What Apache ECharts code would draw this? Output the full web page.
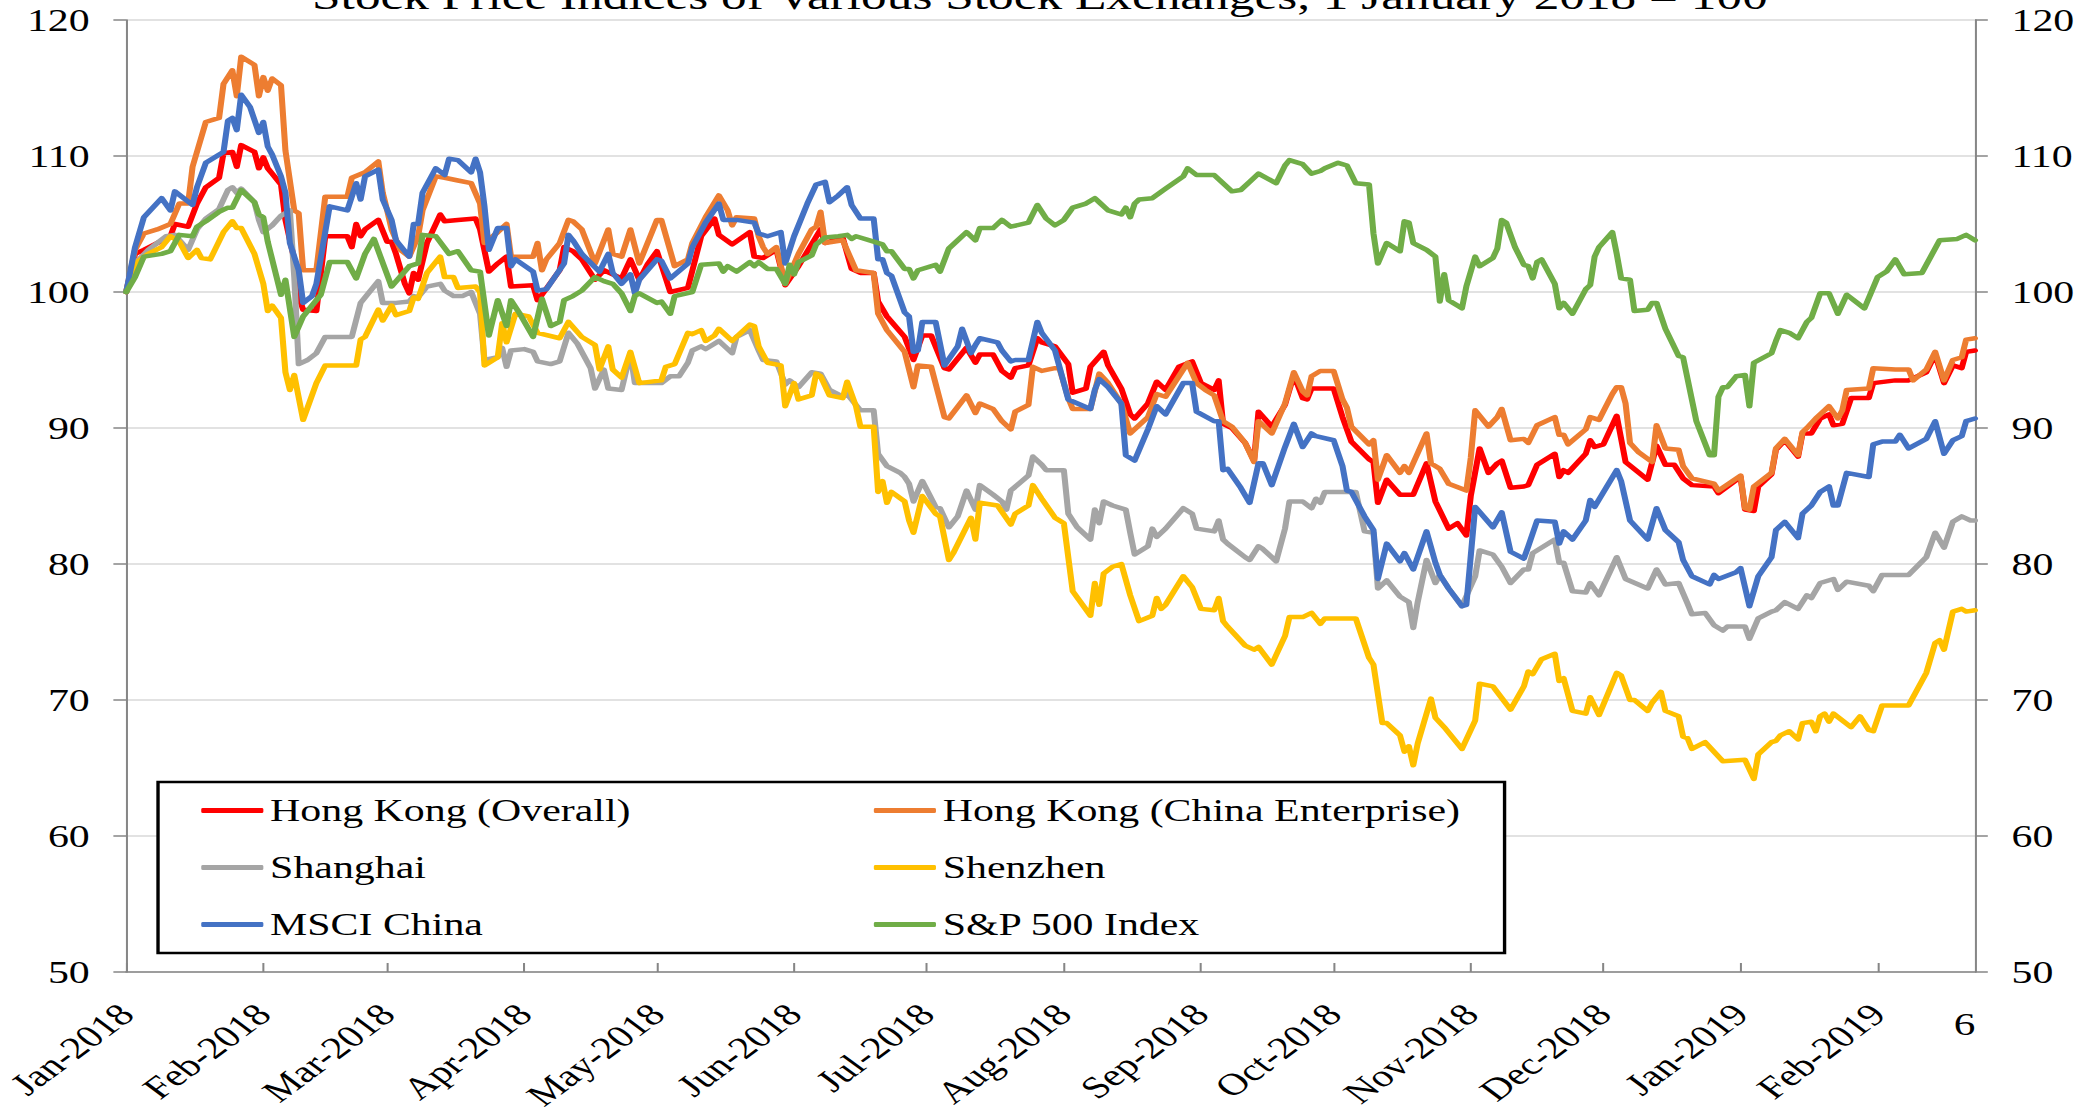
<!DOCTYPE html>
<html>
<head>
<meta charset="utf-8">
<title>Stock Price Indices</title>
<script src="https://cdn.jsdelivr.net/npm/echarts/dist/echarts.min.js"></script>
<style>
  html, body { margin: 0; padding: 0; background: #fff; overflow: hidden; }
  /* the source picture is stretched sideways, so draw narrower and stretch */
  #chart { width: 1540px; height: 1117px; transform: scaleX(1.3506); transform-origin: 0 0; }
</style>
</head>
<body>
<div id="chart"></div>
<script>
// days counted from 1 Jan 2018
const BASE = Date.UTC(2018, 0, 1);
const DAY = 86400000;
const END_DAY = 418;
const MONTHS = ["Jan", "Feb", "Mar", "Apr", "May", "Jun", "Jul", "Aug", "Sep", "Oct", "Nov", "Dec"];
const TITLE = "Stock Price Indices of Various Stock Exchanges, 1 January 2018 = 100";

const names = ["Hong Kong (Overall)", "Hong Kong (China Enterprise)", "Shanghai", "Shenzhen", "MSCI China", "S&P 500 Index"];
const colors = ["#FF0000", "#ED7D31", "#A5A5A5", "#FFC000", "#4472C4", "#70AD47"];

const hkOverall = [[0,100],[2,102.8],[4,103.1],[7,103.6],[10,104.1],[11,105.0],[14,104.8],[16,106.5],[18,107.7],[21,108.4],[22,110.2],[24,110.3],[25,109.2],[26,110.8],[29,110.3],[30,109.1],[31,109.9],[32,109.1],[33,108.7],[35,107.9],[36,105.3],[38,102.4],[39,99.7],[40,98.7],[43,98.6],[45,104.1],[50,104.1],[51,103.3],[52,105.0],[53,104.1],[54,104.6],[57,105.3],[59,103.7],[60,103.7],[61,102.8],[63,100.6],[64,99.9],[65,101.4],[66,100.9],[68,103.6],[71,105.7],[72,105.2],[75,105.3],[79,105.4],[80,104.6],[82,101.5],[84,102.1],[86,102.6],[87,100.4],[92,100.5],[93,99.4],[94,99.8],[98,101.6],[99,103.3],[101,103.0],[103,102.4],[106,100.9],[108,101.6],[110,101.3],[112,101.0],[114,102.4],[116,100.9],[118,102.1],[120,103.0],[123,100.0],[127,100.3],[130,104.1],[133,105.4],[134,104.2],[137,103.5],[141,104.4],[142,102.6],[144,102.5],[147,103.1],[149,100.5],[152,101.9],[157,104.6],[158,103.6],[162,104.0],[164,101.7],[166,101.4],[169,101.4],[170,99.3],[172,98.2],[176,96.7],[178,95.0],[180,96.8],[182,96.8],[185,94.4],[186,94.3],[190,95.9],[192,94.8],[193,95.4],[196,95.4],[198,94.2],[200,93.7],[201,94.4],[204,94.6],[206,96.6],[207,96.3],[210,96.0],[213,94.7],[214,92.6],[217,92.9],[218,94.5],[221,95.6],[222,94.6],[225,92.9],[227,91.0],[228,90.7],[231,91.8],[233,93.4],[235,92.8],[238,94.5],[241,94.9],[243,93.3],[246,92.8],[247,93.5],[248,90.3],[250,90.0],[253,88.9],[255,87.6],[256,91.2],[259,90.1],[262,91.7],[264,93.9],[266,92.2],[267,92.1],[268,92.9],[273,92.9],[275,90.8],[277,89.0],[281,87.7],[282,87.5],[283,84.5],[285,86.2],[288,85.1],[291,85.1],[294,87.4],[296,84.6],[299,82.6],[301,83.0],[303,82.1],[304,85.0],[306,88.5],[308,86.7],[310,87.4],[311,87.6],[313,85.6],[316,85.7],[317,85.8],[319,87.3],[323,88.1],[324,86.4],[325,86.9],[326,86.7],[330,88.1],[331,89.1],[332,88.6],[334,88.8],[337,90.9],[339,87.5],[344,86.2],[346,88.7],[348,87.3],[350,87.3],[352,86.3],[354,85.8],[359,85.7],[360,85.2],[365,86.4],[366,84.0],[368,83.9],[369,85.7],[372,86.6],[373,88.4],[375,89.1],[378,87.9],[379,89.6],[381,89.6],[383,90.7],[385,91.0],[386,90.2],[388,90.3],[390,92.2],[394,92.2],[395,93.3],[400,93.5],[403,93.5],[407,94.1],[409,95.4],[411,93.3],[413,94.6],[415,94.4],[416,95.6],[418,95.7]];

const hkChinaEnt = [[0,100],[2,103.1],[4,104.3],[7,104.6],[10,105.0],[12,106.5],[14,106.5],[15,109.2],[18,112.5],[21,112.8],[22,115.3],[24,116.3],[25,114.4],[26,117.3],[29,116.7],[30,114.4],[31,115.8],[32,114.8],[33,115.7],[35,115.2],[36,110.4],[38,106.0],[39,105.8],[40,101.6],[43,101.6],[45,107.0],[50,107.0],[51,108.4],[54,108.8],[57,109.6],[58,107.3],[59,106.0],[60,104.6],[62,103.1],[64,102.6],[66,104.1],[67,106.0],[70,108.5],[72,108.4],[75,108.2],[78,108.0],[80,106.5],[81,103.6],[84,104.4],[86,105.0],[87,102.6],[92,102.6],[93,103.6],[94,101.6],[95,102.4],[98,103.6],[100,105.3],[101,105.2],[103,104.6],[106,102.1],[109,104.6],[110,102.8],[112,102.6],[114,104.6],[116,102.1],[120,105.3],[121,105.3],[124,101.9],[127,102.4],[128,103.6],[131,105.5],[134,107.1],[136,106.0],[137,104.9],[138,105.5],[142,105.4],[143,104.1],[144,103.3],[145,102.8],[147,103.3],[149,100.6],[152,102.8],[155,104.6],[156,104.8],[157,105.9],[158,103.6],[162,103.8],[165,101.6],[169,101.4],[170,98.4],[172,97.2],[176,95.6],[178,93.0],[179,94.6],[182,94.5],[185,90.8],[186,90.7],[190,92.4],[192,91.1],[193,91.8],[196,91.4],[198,90.5],[200,89.9],[201,91.2],[204,91.7],[205,94.5],[207,94.2],[210,94.4],[211,94.4],[213,92.2],[214,91.4],[218,91.4],[220,94.0],[222,93.3],[225,91.8],[227,89.6],[231,90.8],[233,92.5],[235,92.3],[240,94.8],[242,93.3],[244,92.8],[246,92.4],[248,90.5],[250,90.1],[253,88.9],[255,87.5],[256,90.5],[259,89.6],[262,91.8],[264,94.1],[266,92.7],[267,92.4],[268,93.8],[270,94.2],[273,94.2],[275,92.1],[276,91.5],[277,90.1],[281,88.8],[282,89.1],[283,86.2],[285,88.0],[288,86.7],[289,87.2],[290,86.7],[294,89.6],[295,87.4],[297,87.0],[299,85.9],[303,85.4],[304,87.8],[305,91.3],[308,90.1],[310,90.8],[311,91.4],[313,89.1],[316,89.2],[317,88.9],[319,90.2],[323,90.8],[324,89.5],[325,89.5],[326,88.8],[330,89.9],[331,90.8],[333,90.6],[336,92.5],[337,93.0],[338,93.0],[339,91.8],[340,88.9],[342,88.2],[345,87.5],[346,90.2],[348,88.5],[351,88.4],[352,87.2],[354,86.3],[359,85.9],[360,85.4],[365,86.5],[366,84.1],[367,84.0],[368,85.7],[372,86.7],[373,88.5],[375,89.2],[378,88.0],[379,89.7],[380,90.0],[382,90.7],[383,91.0],[385,91.6],[387,90.7],[388,91.3],[389,92.8],[394,92.9],[395,94.4],[400,94.3],[403,94.3],[404,93.5],[407,94.3],[409,95.6],[411,93.5],[413,95.0],[415,95.2],[416,96.5],[418,96.6]];

const shanghai = [[0,100],[2,102.1],[5,103.1],[9,104.1],[11,104.2],[14,103.1],[16,104.6],[18,105.4],[21,106.1],[23,107.5],[24,107.7],[25,107.3],[26,107.6],[29,106.6],[30,105.3],[31,104.4],[33,104.9],[35,105.6],[37,106.0],[38,101.1],[39,94.7],[41,95.0],[43,95.5],[45,96.7],[51,96.7],[53,99.2],[57,100.8],[58,99.2],[61,99.2],[64,99.3],[65,99.7],[66,99.6],[68,100.4],[71,100.6],[72,100.1],[74,99.7],[76,99.7],[78,100.0],[80,98.4],[81,95.0],[84,95.2],[85,95.9],[86,94.5],[87,95.7],[90,95.8],[92,95.6],[93,94.9],[96,94.7],[98,94.9],[100,97.0],[102,96.2],[105,94.4],[106,92.9],[108,94.3],[109,92.9],[112,92.8],[114,95.5],[115,93.3],[121,93.3],[123,93.8],[125,93.8],[127,94.8],[128,95.7],[130,96.0],[131,95.8],[134,96.4],[137,95.5],[138,96.7],[141,97.2],[143,95.7],[144,95.0],[147,94.9],[149,93.2],[150,93.5],[152,93.0],[155,94.1],[157,94.0],[159,92.8],[162,92.3],[163,92.5],[166,91.3],[169,91.3],[170,88.1],[172,87.2],[175,86.7],[176,86.4],[177,85.9],[178,84.6],[180,86.1],[183,84.2],[184,84.1],[186,82.7],[188,83.5],[190,85.4],[192,84.0],[193,85.8],[196,85.1],[198,84.6],[199,84.0],[200,85.4],[204,86.5],[205,87.9],[207,87.3],[208,86.9],[212,86.9],[213,83.7],[215,82.7],[218,81.8],[219,84.0],[220,83.0],[221,84.6],[223,84.3],[226,84.0],[227,82.3],[228,80.7],[231,81.3],[232,82.6],[233,82.0],[235,82.6],[239,84.1],[241,83.7],[242,82.6],[246,82.4],[247,83.2],[248,81.8],[249,81.5],[253,80.5],[254,80.3],[256,81.3],[257,81.1],[260,80.2],[262,82.6],[263,84.6],[266,84.6],[268,84.1],[269,84.8],[270,84.5],[271,85.3],[278,85.3],[280,82.4],[282,82.3],[283,78.2],[285,78.8],[288,77.6],[290,77.2],[291,75.3],[292,77.2],[294,80.3],[296,78.6],[297,79.2],[299,78.2],[302,76.9],[305,79.1],[306,81.0],[309,80.7],[311,79.8],[313,78.6],[316,79.6],[317,79.6],[318,80.8],[323,81.8],[324,80.1],[325,80.1],[327,78.0],[330,77.9],[331,78.6],[333,77.7],[337,80.5],[339,78.9],[344,78.2],[346,79.6],[348,78.5],[351,78.6],[353,77.1],[354,76.3],[357,76.4],[359,75.5],[361,75.1],[362,75.4],[366,75.4],[367,74.5],[369,76.0],[372,76.5],[373,76.6],[375,77.2],[378,76.7],[380,77.7],[381,77.5],[383,78.6],[386,78.9],[387,78.1],[389,78.7],[394,78.4],[395,78.0],[397,79.2],[403,79.2],[407,80.5],[409,82.3],[411,81.2],[413,83.1],[415,83.5],[417,83.2],[418,83.2]];

const shenzhen = [[0,100],[2,102.1],[5,102.8],[8,103.3],[10,104.1],[12,103.7],[14,102.5],[16,103.1],[17,102.5],[19,102.4],[22,104.4],[24,105.2],[25,104.7],[26,104.7],[29,102.8],[30,101.7],[31,100.6],[32,98.6],[33,99.0],[35,98.1],[36,94.1],[37,92.8],[38,93.9],[40,90.6],[43,93.3],[45,94.6],[52,94.6],[53,96.5],[54,96.7],[57,98.7],[58,97.9],[60,99.0],[61,98.3],[64,98.6],[65,99.6],[66,99.5],[68,101.4],[71,102.6],[72,101.1],[74,101.1],[75,100.3],[79,100.4],[80,100.0],[81,94.6],[84,95.2],[85,97.7],[86,96.3],[88,98.4],[91,98.2],[93,97.0],[98,96.6],[100,97.8],[103,96.7],[106,96.1],[107,94.3],[109,96.0],[110,94.3],[112,93.7],[114,95.6],[116,93.3],[121,93.5],[122,94.5],[124,94.7],[127,97.0],[128,96.9],[130,97.2],[131,96.4],[133,96.8],[134,97.3],[137,96.4],[141,97.6],[142,97.5],[143,96.0],[145,94.8],[148,94.6],[149,91.6],[151,93.3],[152,92.1],[155,92.4],[156,94.0],[157,93.8],[159,92.4],[162,92.2],[163,93.4],[165,91.6],[166,90.1],[169,90.1],[170,85.3],[171,86.1],[172,84.5],[173,85.3],[176,84.6],[177,83.2],[178,82.3],[180,85.0],[183,83.7],[184,83.5],[186,80.3],[187,80.8],[191,83.4],[192,81.8],[193,84.5],[197,84.3],[200,82.9],[201,83.7],[204,84.3],[205,85.8],[207,84.8],[210,83.4],[212,83.0],[214,78.0],[218,76.2],[219,78.6],[220,77.0],[221,79.3],[223,79.8],[225,80.0],[227,77.7],[229,75.8],[232,76.2],[233,77.5],[234,76.7],[235,77.0],[239,79.1],[241,78.3],[243,76.7],[246,76.6],[247,77.5],[248,75.8],[249,75.4],[253,74.0],[255,73.7],[256,73.9],[259,72.6],[262,74.7],[263,76.1],[266,76.1],[268,76.4],[270,75.6],[271,76.0],[278,76.0],[281,73.1],[282,72.6],[284,68.3],[285,68.3],[288,67.4],[289,66.2],[290,66.6],[291,65.2],[292,66.8],[295,70.1],[296,68.7],[298,68.0],[302,66.4],[305,68.5],[306,71.2],[309,71.0],[313,69.3],[316,71.0],[317,72.1],[318,71.9],[320,73.0],[323,73.4],[324,71.4],[325,71.6],[327,69.2],[330,69.0],[331,70.2],[333,68.9],[337,72.0],[338,71.8],[340,70.0],[341,70.0],[344,69.2],[345,69.8],[347,70.6],[348,69.2],[351,68.8],[352,67.3],[353,67.2],[354,66.4],[357,66.9],[361,65.5],[366,65.6],[368,64.2],[369,66.0],[372,66.9],[373,67.0],[374,67.4],[376,67.7],[378,67.1],[379,68.3],[381,68.4],[382,67.7],[383,68.8],[384,69.0],[385,68.4],[386,69.0],[390,68.0],[392,68.8],[394,67.8],[395,67.7],[397,69.6],[403,69.6],[407,72.0],[409,74.2],[410,74.4],[411,73.7],[413,76.5],[415,76.7],[416,76.5],[418,76.6]];

const msciChina = [[0,100],[2,103.3],[4,105.5],[8,106.9],[10,106.0],[11,107.4],[15,106.4],[16,107.7],[18,109.5],[22,110.3],[23,112.6],[24,112.8],[25,111.9],[26,114.5],[28,113.6],[30,111.7],[31,112.5],[32,110.7],[33,110.1],[35,108.5],[36,107.3],[37,103.6],[39,101.6],[40,99.2],[42,99.7],[43,100.6],[46,106.3],[50,106.0],[52,108.0],[53,106.8],[54,108.5],[57,109.0],[58,106.8],[60,105.3],[61,103.8],[64,102.6],[65,105.0],[66,105.0],[67,107.3],[70,109.1],[72,108.6],[73,109.8],[75,109.7],[78,108.8],[79,109.8],[80,108.8],[81,106.3],[82,103.1],[84,104.7],[86,104.7],[87,101.9],[88,102.4],[92,101.5],[93,100.1],[95,100.2],[99,102.1],[100,104.2],[101,103.8],[103,102.8],[107,101.5],[109,102.8],[110,101.4],[112,100.6],[114,101.3],[115,99.9],[116,100.9],[120,102.4],[121,102.3],[123,101.0],[127,102.1],[128,103.3],[131,105.1],[134,106.5],[135,105.3],[138,105.3],[142,105.1],[143,104.3],[145,104.1],[148,104.4],[149,102.1],[151,104.1],[154,106.5],[156,107.9],[158,108.1],[159,106.6],[161,107.1],[163,107.7],[164,106.4],[166,105.4],[169,105.4],[170,102.4],[171,102.4],[172,101.4],[173,101.2],[176,98.5],[177,98.2],[178,95.6],[179,95.7],[180,97.8],[183,97.8],[185,94.6],[188,96.0],[189,97.3],[191,95.5],[192,96.1],[193,96.6],[197,96.3],[198,95.7],[200,94.9],[201,95.0],[204,95.0],[206,97.8],[207,97.0],[210,95.7],[213,92.1],[218,91.4],[219,92.8],[220,93.6],[222,93.0],[225,91.8],[226,88.0],[228,87.6],[231,89.9],[233,91.6],[235,91.0],[239,93.3],[241,93.3],[242,91.2],[246,90.5],[247,90.5],[248,86.9],[249,87.0],[252,85.6],[254,84.5],[256,87.4],[257,87.4],[259,85.8],[262,88.6],[264,90.3],[266,88.6],[268,89.6],[269,89.4],[273,89.1],[275,87.2],[276,85.4],[277,85.3],[280,83.5],[282,82.5],[283,78.9],[285,81.5],[288,80.2],[289,80.8],[291,79.6],[294,82.4],[296,80.1],[297,79.2],[299,78.2],[302,76.9],[303,77.0],[305,84.2],[309,82.7],[311,83.8],[313,80.9],[316,80.4],[317,81.3],[319,83.2],[323,83.1],[324,81.5],[325,82.4],[327,81.8],[330,83.2],[331,84.7],[332,84.2],[337,86.9],[338,86.1],[340,83.2],[344,81.8],[346,84.1],[348,82.5],[351,81.6],[352,80.3],[354,79.1],[358,78.5],[359,79.2],[360,78.9],[364,79.4],[365,79.7],[367,76.9],[369,79.1],[372,80.5],[373,82.5],[375,83.1],[378,81.9],[379,83.7],[381,84.3],[383,85.3],[385,85.7],[386,84.3],[387,84.3],[389,86.7],[394,86.4],[395,88.8],[397,89.0],[400,89.0],[401,89.5],[403,88.5],[407,89.2],[409,90.5],[411,88.1],[413,89.1],[415,89.4],[416,90.5],[418,90.7]];

const sp500 = [[0,100],[2,101.1],[4,102.6],[8,102.8],[10,103.0],[12,104.2],[15,104.1],[16,104.8],[18,105.2],[21,105.9],[23,106.2],[24,106.2],[26,107.5],[29,106.6],[30,105.7],[31,105.5],[32,103.7],[35,99.8],[36,100.9],[38,96.7],[40,98.2],[44,99.8],[46,102.2],[50,102.2],[52,101.0],[54,102.8],[56,103.9],[60,100.4],[64,101.9],[66,102.1],[67,104.2],[70,104.1],[73,102.8],[75,103.0],[78,101.6],[80,101.5],[82,96.8],[84,99.4],[86,97.5],[87,99.4],[89,98.4],[92,96.7],[94,99.5],[96,97.5],[98,97.8],[99,99.4],[101,99.7],[103,100.1],[106,101.1],[108,100.8],[110,100.6],[112,99.9],[114,98.6],[115,99.7],[116,99.9],[120,99.2],[121,99.3],[123,98.4],[124,99.7],[128,100.0],[130,102.0],[134,102.1],[135,101.5],[136,101.9],[138,101.5],[141,102.2],[142,101.9],[143,102.2],[145,101.7],[147,101.7],[149,100.6],[150,102.0],[151,101.3],[152,102.2],[155,102.7],[156,103.5],[158,104.0],[161,104.1],[163,104.2],[164,103.9],[165,104.1],[169,103.7],[171,103.5],[172,103.0],[173,103.0],[176,101.7],[177,101.7],[178,101.0],[179,101.6],[183,102.0],[184,101.5],[186,103.2],[190,104.4],[192,103.8],[193,104.7],[196,104.7],[198,105.3],[200,104.8],[204,105.1],[206,106.4],[208,105.4],[210,104.9],[212,105.3],[214,106.2],[217,106.5],[219,106.9],[220,106.6],[222,106.0],[225,105.7],[226,106.2],[227,105.5],[228,106.5],[229,106.8],[232,106.9],[235,107.6],[239,108.5],[240,109.1],[242,108.6],[246,108.6],[250,107.4],[252,107.5],[254,108.1],[256,108.7],[260,108.0],[262,109.3],[263,109.7],[266,109.4],[268,108.7],[270,108.9],[271,109.1],[274,109.5],[276,109.3],[278,108.0],[281,107.9],[282,104.3],[283,102.1],[285,103.6],[288,103.0],[289,105.2],[290,105.1],[291,103.6],[294,103.1],[296,102.6],[297,99.3],[298,101.3],[299,99.4],[302,98.8],[303,100.4],[305,102.6],[306,101.9],[309,102.5],[310,103.2],[311,105.3],[312,105.1],[314,103.3],[316,102.0],[317,101.9],[318,101.0],[319,102.2],[320,102.4],[323,100.6],[324,98.8],[325,99.2],[327,98.4],[330,100.2],[331,100.5],[332,102.6],[333,103.3],[336,104.4],[337,102.8],[338,101.0],[340,100.9],[341,98.6],[344,98.7],[345,99.2],[346,99.2],[348,97.3],[351,95.3],[352,95.2],[355,90.5],[358,88.0],[359,88.0],[360,92.3],[361,93.0],[362,93.0],[364,93.8],[366,93.9],[367,91.6],[368,94.8],[372,95.5],[373,96.4],[374,97.2],[376,97.0],[378,96.6],[380,97.8],[381,98.1],[383,99.9],[385,99.9],[387,98.4],[389,99.8],[393,98.8],[396,101.1],[398,101.5],[400,102.4],[402,101.3],[406,101.4],[408,102.6],[410,103.8],[414,103.9],[416,104.2],[418,103.8]];

const allSeries = [hkOverall, hkChinaEnt, shanghai, shenzhen, msciChina, sp500];

const FONT = "Liberation Serif";
const AXIS_GREY = "#868686";

let myChart = echarts.init(document.getElementById("chart"), null, { renderer: "svg" });

function monthLabel(value) {
  const d = new Date(value);
  if (d.getUTCDate() !== 1 || d.getUTCHours() !== 0) return "";
  return MONTHS[d.getUTCMonth()] + "-" + d.getUTCFullYear();
}

function yAxisOf(position) {
  return {
    type: "value",
    position: position,
    min: 50,
    max: 120,
    interval: 10,
    axisLine: { show: true, lineStyle: { color: AXIS_GREY, width: 1.5 } },
    axisTick: { show: true, length: 9.5, lineStyle: { color: AXIS_GREY, width: 1.5 } },
    axisLabel: { margin: 27, fontSize: 31, color: "#000", fontFamily: FONT },
    splitLine: { show: position === "left", lineStyle: { color: "#d9d9d9", width: 1.5 } },
  };
}

function legendOf(left, list) {
  return {
    orient: "vertical",
    left: left,
    top: 790,
    itemWidth: 46,
    itemHeight: 5,
    itemGap: 26,
    icon: "roundRect",
    data: list,
    textStyle: { fontSize: 31, lineHeight: 31, color: "#000", fontFamily: FONT },
  };
}

var options = {
  animation: false,
  useUTC: true,
  backgroundColor: "#fff",
  textStyle: { fontFamily: FONT },
  title: {
    text: TITLE,
    left: "center",
    top: -28,
    textStyle: { fontSize: 38, fontWeight: "normal", color: "#000", fontFamily: FONT },
  },
  grid: { left: 93.3, right: 77.7, top: 20, bottom: 145 },
  xAxis: {
    type: "time",
    min: BASE,
    max: BASE + END_DAY * DAY,
    splitNumber: 14,
    minInterval: 28 * DAY,
    maxInterval: 31 * DAY,
    axisLine: { lineStyle: { color: AXIS_GREY, width: 1.5 } },
    axisTick: { inside: true, length: 9, lineStyle: { color: AXIS_GREY, width: 1.5 } },
    splitLine: { show: false },
    axisLabel: {
      rotate: 45,
      margin: 37,
      fontSize: 31,
      color: "#000",
      fontFamily: FONT,
      fontWeight: "normal",
      hideOverlap: false,
      formatter: monthLabel,
    },
  },
  yAxis: [yAxisOf("left"), yAxisOf("right")],
  legend: [
    legendOf(144, [names[0], names[2], names[4]]),
    legendOf(642, [names[1], names[3], names[5]]),
  ],
  graphic: [
    {
      type: "rect",
      z: 3,
      shape: { x: 117, y: 782, width: 997, height: 171 },
      style: { fill: "#fff", stroke: "#000", lineWidth: 2.5 },
    },
    {
      type: "text",
      x: 1454.5,
      y: 1024,
      style: { text: "6", fontSize: 32, fontFamily: FONT, fill: "#000", align: "center", verticalAlign: "middle" },
    },
  ],
  series: names.map((name, i) => ({
    name: name,
    type: "line",
    yAxisIndex: 0,
    symbol: "none",
    data: allSeries[i].map((p) => [BASE + p[0] * DAY, p[1]]),
    lineStyle: { width: 4.5, color: colors[i], join: "round", cap: "round" },
    itemStyle: { color: colors[i] },
  })),
};

myChart.setOption(options);
</script>
</body>
</html>
